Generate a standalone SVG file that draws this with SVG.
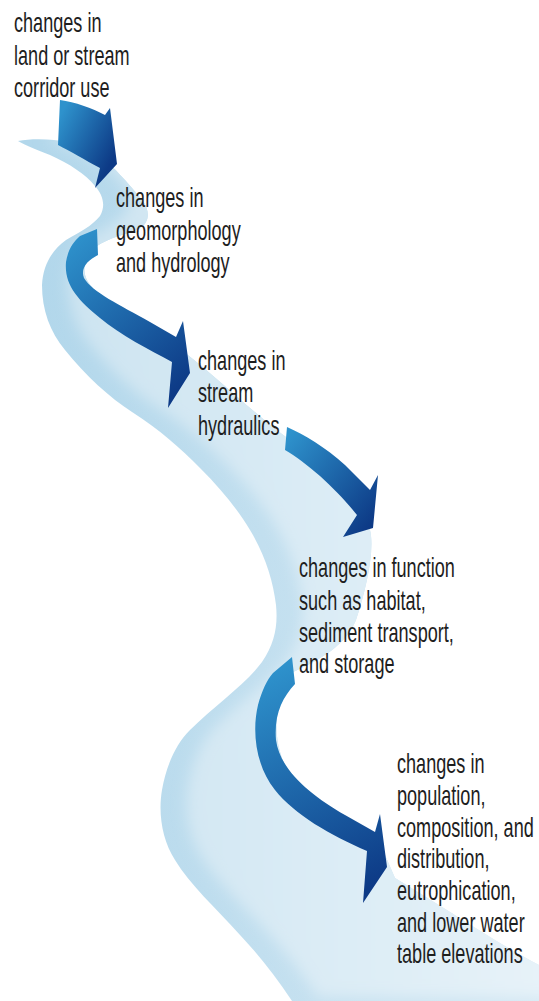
<svg xmlns="http://www.w3.org/2000/svg" width="539" height="1001" viewBox="0 0 539 1001">
<defs>
<style>
.lbl{font-family:"Liberation Sans",Arial,sans-serif;font-size:28.5px;fill:#1e1e1e;}
</style>
<linearGradient id="rv" gradientUnits="userSpaceOnUse" x1="40" y1="0" x2="539" y2="0">
<stop offset="0" stop-color="#b2d7eb"/>
<stop offset="1" stop-color="#d6e9f4"/>
</linearGradient>
<linearGradient id="rvl" gradientUnits="userSpaceOnUse" x1="40" y1="0" x2="539" y2="0">
<stop offset="0" stop-color="#cde4f1"/>
<stop offset="1" stop-color="#e8f3f9"/>
</linearGradient>
<filter id="soft" x="-20%" y="-20%" width="140%" height="140%"><feGaussianBlur stdDeviation="7"/></filter>
<linearGradient id="a1" gradientUnits="userSpaceOnUse" x1="58" y1="120" x2="117" y2="150"><stop offset="0" stop-color="#2e92cc"/><stop offset="1" stop-color="#0d3a86"/></linearGradient>
<linearGradient id="a2" gradientUnits="userSpaceOnUse" x1="70" y1="240" x2="190" y2="380"><stop offset="0" stop-color="#2e92cc"/><stop offset="1" stop-color="#0d3a86"/></linearGradient>
<linearGradient id="a3" gradientUnits="userSpaceOnUse" x1="285" y1="440" x2="378" y2="515"><stop offset="0" stop-color="#2e92cc"/><stop offset="1" stop-color="#0d3a86"/></linearGradient>
<linearGradient id="a4" gradientUnits="userSpaceOnUse" x1="280" y1="665" x2="385" y2="880"><stop offset="0" stop-color="#2e92cc"/><stop offset="1" stop-color="#0d3a86"/></linearGradient>
<path id="riverShape" d="M18,141 C40,137 75,140 95,152 C110,162 130,185 142,200 C150,210 150,222 140,228 C128,234 108,238 97,246 C86,256 80,268 88,282 C100,300 140,322 175,345 C215,375 255,415 290,440 C330,465 360,495 370,530 C375,550 366,590 356,620 C346,645 320,660 293,672 C276,690 270,735 285,765 C305,795 345,815 385,855 L395,878 C440,905 500,945 539,965 L539,1001 L292,1001 C275,975 257,953 240,935 C215,907 190,885 175,860 C162,840 158,813 162,790 C166,767 175,745 190,730 C215,705 245,685 262,662 C275,643 278,625 276,605 C273,580 265,555 250,530 C238,510 222,490 200,468 C180,448 160,430 132,412 C110,398 85,375 65,350 C50,332 42,310 42,285 C43,265 52,250 66,240 C80,232 92,226 100,216 C106,206 103,195 95,186 C85,174 70,164 50,155 C38,150 26,146 18,141 Z"/>
<clipPath id="rclip"><use href="#riverShape"/></clipPath>
</defs>
<rect width="539" height="1001" fill="#ffffff"/>
<g id="river">
<use href="#riverShape" fill="url(#rv)"/>
<g clip-path="url(#rclip)">
<use href="#riverShape" fill="url(#rvl)" transform="translate(26,-4)" filter="url(#soft)"/>
</g>
</g>
<g id="connectors">
<path id="arrow1" fill="url(#a1)" d="M58,145 L60,100 C75,102 92,108 105,115 L110,108 L117,164 L95,188 L100,168 C85,160 70,151 58,145 Z"/>
<path id="arrow2" fill="url(#a2)" d="M80,236 L97,229 L98,255 C88,260 80,268 84,278 C92,292 120,305 150,322 L176,337 L183,321 L190,373 L168,408 L172,362 C150,350 120,335 100,318 C78,300 64,285 66,262 C68,250 73,242 80,236 Z"/>
<path id="arrow3" fill="url(#a3)" d="M287,427 C305,435 325,447 345,465 L370,490 L378,475 L373,528 L343,537 L357,515 C345,500 335,490 320,476 C308,466 296,456 285,450 Z"/>
<path id="arrow4" fill="url(#a4)" d="M292,657 L295,684 C282,698 274,715 276,740 C280,770 310,795 345,815 L375,832 L380,814 L387,867 L363,903 L367,851 C330,835 295,815 275,790 C255,765 252,730 258,705 C262,690 267,680 273,673 Z"/>
</g>
<g id="node1" transform="translate(14,0) scale(0.635,1)">
<text x="0" y="32" class="lbl">changes in</text>
<text x="0" y="65" class="lbl">land or stream</text>
<text x="0" y="97" class="lbl">corridor use</text>
</g>
<g id="node2" transform="translate(116,0) scale(0.635,1)">
<text x="0" y="207" class="lbl">changes in</text>
<text x="0" y="240" class="lbl">geomorphology</text>
<text x="0" y="272" class="lbl">and hydrology</text>
</g>
<g id="node3" transform="translate(198,0) scale(0.635,1)">
<text x="0" y="370" class="lbl">changes in</text>
<text x="0" y="402" class="lbl">stream</text>
<text x="0" y="435" class="lbl">hydraulics</text>
</g>
<g id="node4" transform="translate(299,0) scale(0.635,1)">
<text x="0" y="577" class="lbl">changes in function</text>
<text x="0" y="610" class="lbl">such as habitat,</text>
<text x="0" y="642" class="lbl">sediment transport,</text>
<text x="0" y="673" class="lbl">and storage</text>
</g>
<g id="node5" transform="translate(397,0) scale(0.635,1)">
<text x="0" y="773" class="lbl">changes in</text>
<text x="0" y="805" class="lbl">population,</text>
<text x="0" y="837" class="lbl">composition, and</text>
<text x="0" y="868" class="lbl">distribution,</text>
<text x="0" y="900" class="lbl">eutrophication,</text>
<text x="0" y="932" class="lbl">and lower water</text>
<text x="0" y="963" class="lbl">table elevations</text>
</g>
</svg>
